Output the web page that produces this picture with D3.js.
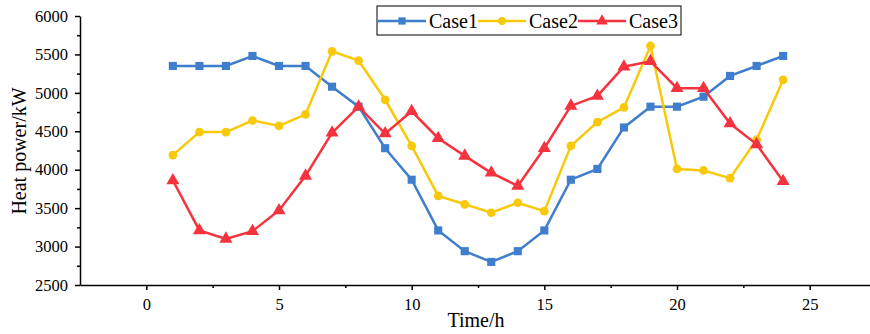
<!DOCTYPE html>
<html>
<head>
<meta charset="utf-8">
<script src="https://cdn.jsdelivr.net/npm/d3@7"></script>
<style>
  body { margin: 0; background: #fff; }
  svg { display: block; font-family: "Liberation Serif", "Times New Roman", serif; }
</style>
</head>
<body>
<main></main>
<script>
const hours = d3.range(1, 25)
const case1 = [5350, 5350, 5350, 5480, 5350, 5350, 5080, 4820, 4280, 3870, 3210, 2940,
               2800, 2940, 3210, 3870, 4010, 4550, 4820, 4820, 4950, 5220, 5350, 5480]
const case2 = [4190, 4490, 4490, 4640, 4570, 4720, 5540, 5420, 4910, 4310, 3660, 3550,
               3440, 3570, 3460, 4310, 4620, 4810, 5610, 4010, 3990, 3890, 4390, 5170]
const case3 = [3860, 3210, 3100, 3200, 3470, 3920, 4480, 4820, 4470, 4760, 4410, 4180,
               3960, 3790, 4280, 4830, 4960, 5340, 5410, 5060, 5060, 4600, 4330, 3850]
const seriesNames = ["Case1", "Case2", "Case3"]
const xTicks = [0, 5, 10, 15, 20, 25]
const yTicks = [2500, 3000, 3500, 4000, 4500, 5000, 5500, 6000]

const width = 870
const height = 334
const colors = ["#3f7ecc", "#f8c90a", "#f5333f"]
const symbols = [d3.symbolSquare, d3.symbolCircle, d3.symbolTriangle]
const symSize = [66, 60, 74]

let svg = d3.select("main")
    .append("svg")
    .attr("width", width)
    .attr("height", height)

let x = d3.scaleLinear()
    .domain([-2.5, 27.5])
    .range([80, 876])

let y = d3.scaleLinear()
    .domain([2500, 6000])
    .range([285, 16])

// minor ticks first so the main axis line sits on top
svg.append("g")
    .attr("transform", `translate(0, ${y(2500)})`)
    .call(d3.axisBottom(x).tickValues(d3.range(2.5, 28, 5)).tickSize(3).tickFormat(""))
    .call(g => g.select(".domain").remove())
svg.append("g")
    .attr("transform", `translate(${x(-2.5)}, 0)`)
    .call(d3.axisLeft(y).tickValues(d3.range(2750, 6000, 500)).tickSize(3).tickFormat(""))
    .call(g => g.select(".domain").remove())

let xAxis = svg.append("g")
    .attr("transform", `translate(0, ${y(2500)})`)
    .call(d3.axisBottom(x).tickValues(xTicks).tickFormat(d3.format("d"))
        .tickSize(5).tickPadding(8).tickSizeOuter(0))
let yAxis = svg.append("g")
    .attr("transform", `translate(${x(-2.5)}, 0)`)
    .call(d3.axisLeft(y).tickValues(yTicks).tickFormat(d3.format("d"))
        .tickSize(5).tickPadding(7).tickSizeOuter(0))

svg.selectAll(".tick line, .domain").attr("stroke", "#000").attr("stroke-width", 1.5)
xAxis.attr("font-family", "Liberation Serif").attr("font-size", 16.5)
yAxis.attr("font-family", "Liberation Serif").attr("font-size", 16.5)
svg.selectAll(".tick text").attr("fill", "#000")

svg.append("text")
    .attr("x", 476)
    .attr("y", 327)
    .attr("text-anchor", "middle")
    .attr("font-size", 20)
    .text("Time/h")

svg.append("text")
    .attr("transform", "translate(26, 151) rotate(-90)")
    .attr("text-anchor", "middle")
    .attr("font-size", 20)
    .text("Heat power/kW")

let line = d3.line().x((d, i) => x(hours[i])).y(d => y(d))

;[case1, case2, case3].forEach((vals, k) => {
    let g = svg.append("g")
    g.append("path")
        .datum(vals)
        .attr("fill", "none")
        .attr("stroke", colors[k])
        .attr("stroke-width", 2.5)
        .attr("d", line)
    g.selectAll("path.pt")
        .data(vals)
        .enter()
        .append("path")
        .attr("class", "pt")
        .attr("transform", (d, i) => `translate(${x(hours[i])}, ${y(d)})`)
        .attr("d", d3.symbol(symbols[k], symSize[k]))
        .attr("fill", colors[k])
})

// legend
let legend = svg.append("g")
legend.append("rect")
    .attr("x", 377)
    .attr("y", 6)
    .attr("width", 304)
    .attr("height", 29)
    .attr("fill", "#fff")
    .attr("stroke", "#000")
    .attr("stroke-width", 1)

seriesNames.forEach((name, k) => {
    let x0 = 378 + k * 100
    legend.append("line")
        .attr("x1", x0).attr("x2", x0 + 48)
        .attr("y1", 21).attr("y2", 21)
        .attr("stroke", colors[k])
        .attr("stroke-width", 2.5)
    legend.append("path")
        .attr("transform", `translate(${x0 + 24}, 21)`)
        .attr("d", d3.symbol(symbols[k], symSize[k] * 0.8))
        .attr("fill", colors[k])
    legend.append("text")
        .attr("x", x0 + 51)
        .attr("y", 28)
        .attr("font-size", 20)
        .text(name)
})
</script>
</body>
</html>
